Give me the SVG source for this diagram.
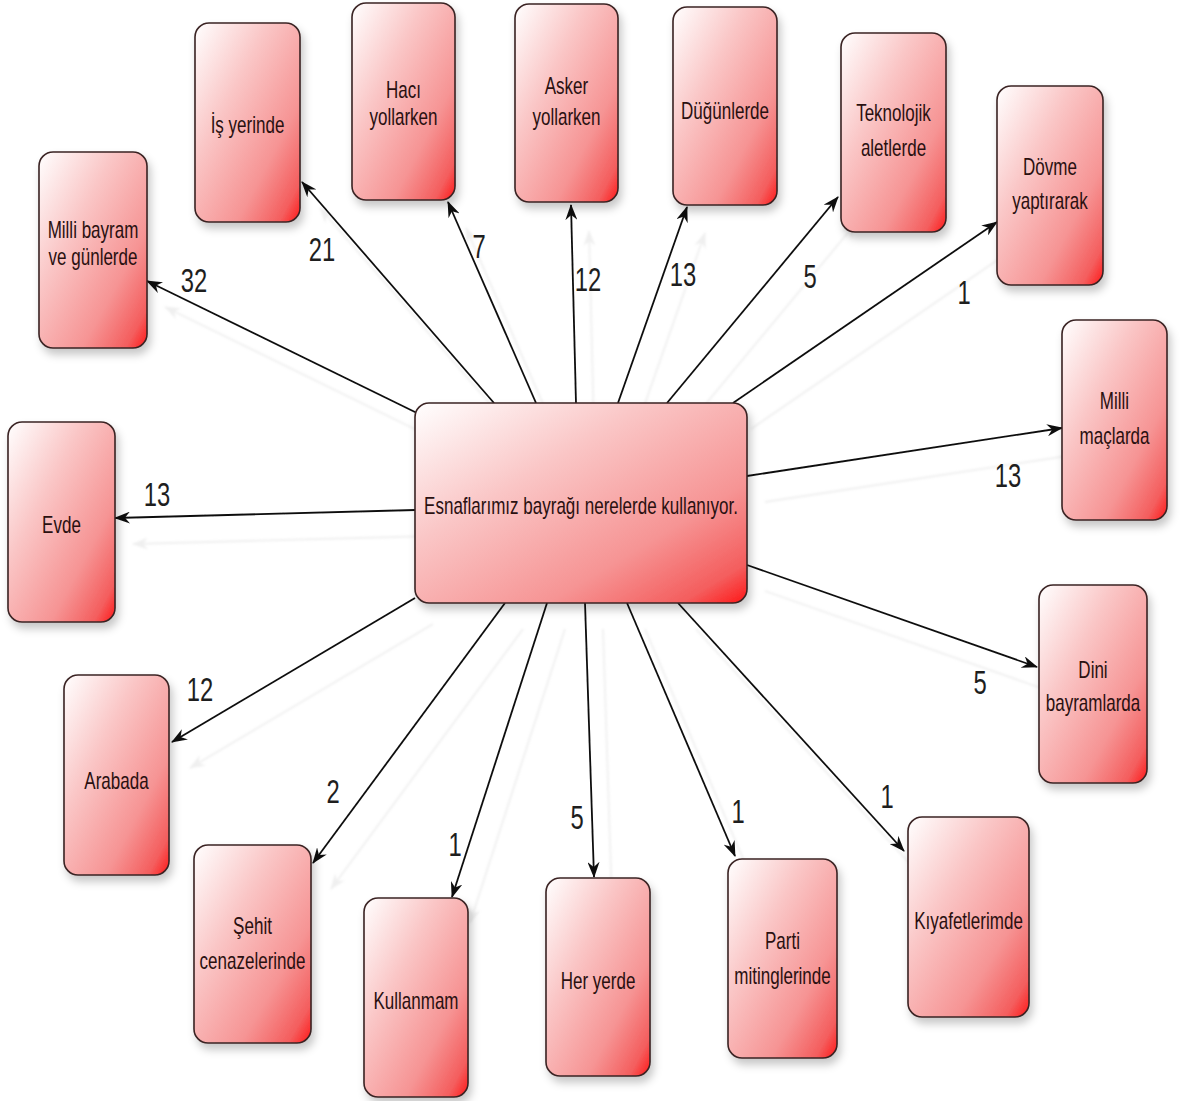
<svg xmlns="http://www.w3.org/2000/svg" width="1182" height="1101" viewBox="0 0 1182 1101">
<style>
.box{fill:url(#g);stroke:#3a2424;stroke-width:1.6;filter:url(#sh)}
.t{font-family:"Liberation Sans",Arial,sans-serif;font-size:23px;fill:#2a1010;text-anchor:middle}
.n{font-family:"Liberation Sans",Arial,sans-serif;font-size:34px;fill:#1e1e1e;text-anchor:middle}
.c{stroke:#111;stroke-width:1.8;fill:none;marker-end:url(#ah)}
</style>
<defs>
<linearGradient id="g" x1="0" y1="0" x2="1" y2="1">
<stop offset="0" stop-color="#ffffff"/>
<stop offset="0.35" stop-color="#fac6c6"/>
<stop offset="0.7" stop-color="#f69494"/>
<stop offset="0.9" stop-color="#f45e5e"/>
<stop offset="1" stop-color="#ff1616"/>
</linearGradient>
<filter id="sh" x="-20%" y="-20%" width="150%" height="150%">
<feDropShadow dx="3" dy="6" stdDeviation="4" flood-color="#000" flood-opacity="0.22"/>
</filter>
<filter id="csh" x="-20%" y="-20%" width="150%" height="150%">
<feDropShadow dx="18" dy="26" stdDeviation="1" flood-color="#b0b0b0" flood-opacity="0.2"/>
</filter>
<marker id="ah" viewBox="0 0 16 12" refX="15" refY="6" markerWidth="16" markerHeight="12" markerUnits="userSpaceOnUse" orient="auto">
<path d="M0,0 L16,6 L0,12 L5,6 Z" fill="#111"/>
</marker>
</defs>
<rect width="1182" height="1101" fill="#fff"/>
<g id="connectors" filter="url(#csh)">
<line class="c" x1="417" y1="413" x2="147" y2="281"/>
<line class="c" x1="494" y1="403" x2="302" y2="182"/>
<line class="c" x1="536" y1="403" x2="448" y2="202"/>
<line class="c" x1="576" y1="403" x2="571" y2="205"/>
<line class="c" x1="618" y1="403" x2="687" y2="207"/>
<line class="c" x1="667" y1="403" x2="838" y2="197"/>
<line class="c" x1="733" y1="403" x2="997" y2="222"/>
<line class="c" x1="747" y1="476" x2="1062" y2="428"/>
<line class="c" x1="747" y1="565" x2="1037" y2="667"/>
<line class="c" x1="678" y1="603" x2="904" y2="851"/>
<line class="c" x1="627" y1="603" x2="735" y2="856"/>
<line class="c" x1="585" y1="603" x2="594" y2="877"/>
<line class="c" x1="547" y1="603" x2="452" y2="897"/>
<line class="c" x1="505" y1="603" x2="313" y2="863"/>
<line class="c" x1="415" y1="598" x2="172" y2="742"/>
<line class="c" x1="415" y1="510" x2="115" y2="518"/>
</g>
<g id="labels">
<text class="n" transform="translate(194 292) scale(0.7 1)">32</text>
<text class="n" transform="translate(322 261) scale(0.7 1)">21</text>
<text class="n" transform="translate(479 258) scale(0.7 1)">7</text>
<text class="n" transform="translate(588 291) scale(0.7 1)">12</text>
<text class="n" transform="translate(683 286) scale(0.7 1)">13</text>
<text class="n" transform="translate(810 288) scale(0.7 1)">5</text>
<text class="n" transform="translate(964 304) scale(0.7 1)">1</text>
<text class="n" transform="translate(1008 487) scale(0.7 1)">13</text>
<text class="n" transform="translate(980 694) scale(0.7 1)">5</text>
<text class="n" transform="translate(887 808) scale(0.7 1)">1</text>
<text class="n" transform="translate(738 823) scale(0.7 1)">1</text>
<text class="n" transform="translate(577 829) scale(0.7 1)">5</text>
<text class="n" transform="translate(455 856) scale(0.7 1)">1</text>
<text class="n" transform="translate(333 803) scale(0.7 1)">2</text>
<text class="n" transform="translate(200 701) scale(0.7 1)">12</text>
<text class="n" transform="translate(157 506) scale(0.7 1)">13</text>
</g>
<g id="center">
<rect class="box" x="415" y="403" width="332" height="200" rx="14"/>
<text class="t" transform="translate(581 514) scale(0.74 1)">Esnaflarımız bayrağı nerelerde kullanıyor.</text>
</g>
<g id="n-milli-bayram">
<rect class="box" x="39" y="152" width="108" height="196" rx="14"/>
<text class="t" transform="translate(93 238) scale(0.74 1)">Milli bayram</text>
<text class="t" transform="translate(93 265) scale(0.74 1)">ve günlerde</text>
</g>
<g id="n-is-yerinde">
<rect class="box" x="195" y="23" width="105" height="199" rx="14"/>
<text class="t" transform="translate(247.5 133) scale(0.74 1)">İş yerinde</text>
</g>
<g id="n-haci">
<rect class="box" x="352" y="3" width="103" height="197" rx="14"/>
<text class="t" transform="translate(403.5 98) scale(0.74 1)">Hacı</text>
<text class="t" transform="translate(403.5 125) scale(0.74 1)">yollarken</text>
</g>
<g id="n-asker">
<rect class="box" x="515" y="4" width="103" height="198" rx="14"/>
<text class="t" transform="translate(566.5 94) scale(0.74 1)">Asker</text>
<text class="t" transform="translate(566.5 125) scale(0.74 1)">yollarken</text>
</g>
<g id="n-dugun">
<rect class="box" x="673" y="7" width="104" height="198" rx="14"/>
<text class="t" transform="translate(725 119) scale(0.74 1)">Düğünlerde</text>
</g>
<g id="n-teknolojik">
<rect class="box" x="841" y="33" width="105" height="199" rx="14"/>
<text class="t" transform="translate(893.5 121) scale(0.74 1)">Teknolojik</text>
<text class="t" transform="translate(893.5 156) scale(0.74 1)">aletlerde</text>
</g>
<g id="n-dovme">
<rect class="box" x="997" y="86" width="106" height="199" rx="14"/>
<text class="t" transform="translate(1050 175) scale(0.74 1)">Dövme</text>
<text class="t" transform="translate(1050 209) scale(0.74 1)">yaptırarak</text>
</g>
<g id="n-milli-mac">
<rect class="box" x="1062" y="320" width="105" height="200" rx="14"/>
<text class="t" transform="translate(1114.5 409) scale(0.74 1)">Milli</text>
<text class="t" transform="translate(1114.5 444) scale(0.74 1)">maçlarda</text>
</g>
<g id="n-dini">
<rect class="box" x="1039" y="585" width="108" height="198" rx="14"/>
<text class="t" transform="translate(1093 678) scale(0.74 1)">Dini</text>
<text class="t" transform="translate(1093 711) scale(0.74 1)">bayramlarda</text>
</g>
<g id="n-kiyafet">
<rect class="box" x="908" y="817" width="121" height="200" rx="14"/>
<text class="t" transform="translate(968.5 929) scale(0.74 1)">Kıyafetlerimde</text>
</g>
<g id="n-parti">
<rect class="box" x="728" y="859" width="109" height="199" rx="14"/>
<text class="t" transform="translate(782.5 949) scale(0.74 1)">Parti</text>
<text class="t" transform="translate(782.5 984) scale(0.74 1)">mitinglerinde</text>
</g>
<g id="n-her-yerde">
<rect class="box" x="546" y="878" width="104" height="198" rx="14"/>
<text class="t" transform="translate(598 989) scale(0.74 1)">Her yerde</text>
</g>
<g id="n-kullanmam">
<rect class="box" x="364" y="898" width="104" height="199" rx="14"/>
<text class="t" transform="translate(416 1009) scale(0.74 1)">Kullanmam</text>
</g>
<g id="n-sehit">
<rect class="box" x="194" y="845" width="117" height="198" rx="14"/>
<text class="t" transform="translate(252.5 934) scale(0.74 1)">Şehit</text>
<text class="t" transform="translate(252.5 969) scale(0.74 1)">cenazelerinde</text>
</g>
<g id="n-arabada">
<rect class="box" x="64" y="675" width="105" height="200" rx="14"/>
<text class="t" transform="translate(116.5 789) scale(0.74 1)">Arabada</text>
</g>
<g id="n-evde">
<rect class="box" x="8" y="422" width="107" height="200" rx="14"/>
<text class="t" transform="translate(61.5 533) scale(0.74 1)">Evde</text>
</g>
</svg>
